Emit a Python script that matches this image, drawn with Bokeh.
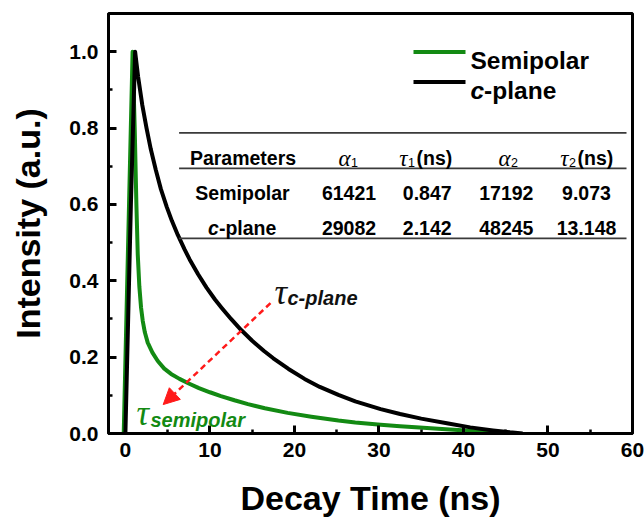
from bokeh.plotting import figure
from bokeh.models import (Label, Arrow, NormalHead, FixedTicker, PrintfTickFormatter,
                          ColumnDataSource)
from bokeh.embed import file_html
from bokeh.resources import INLINE

# ---------------- data ----------------
semipolar_t = [-0.2, 0.43, 0.85, 1.1, 1.3, 1.46, 1.65, 1.85, 2.05, 2.3, 2.64, 3.2, 3.83,
               4.6, 5.4, 6.4, 7.5, 8.7, 10.0, 11.3, 12.9, 14.5, 16.5, 19.2, 22.0, 25.2,
               27.2, 30.2, 32.5, 34.8, 37.0, 39.8, 42.5, 45.0]
semipolar_i = [0.0, 0.6, 1.0, 0.80, 0.60, 0.47, 0.385, 0.33, 0.295, 0.265, 0.238, 0.212, 0.19,
               0.17, 0.156, 0.143, 0.131, 0.119, 0.108, 0.098, 0.087, 0.077, 0.066, 0.054,
               0.044, 0.034, 0.029, 0.023, 0.019, 0.0155, 0.0125, 0.0085, 0.004, 0.0]

cplane_t = [0.0, 0.65, 1.15, 1.5, 2.0, 2.5, 3.0, 3.6, 4.2, 4.9, 5.5, 6.2, 7.0, 7.6, 8.6,
            9.6, 10.6, 11.4, 12.5, 13.7, 15.0, 16.4, 17.5, 19.3, 21.2, 23.0, 25.2, 27.2,
            30.2, 32.5, 35.0, 38.2, 40.8, 43.5, 45.5, 47.0]
cplane_i = [0.0, 0.6, 1.0, 0.935, 0.86, 0.80, 0.745, 0.69, 0.64, 0.593, 0.557, 0.52, 0.482,
            0.456, 0.417, 0.382, 0.351, 0.329, 0.300, 0.271, 0.243, 0.216, 0.197, 0.169,
            0.143, 0.122, 0.101, 0.084, 0.064, 0.051, 0.039, 0.026, 0.016, 0.008, 0.003, 0.0]

series_names = ["Semipolar", "c-plane"]
table_header = ["Parameters", "α1", "τ1 (ns)", "α2", "τ2 (ns)"]
table_semipolar = ["61421", "0.847", "17192", "9.073"]
table_cplane = ["29082", "2.142", "48245", "13.148"]

x_ticks = [0, 10, 20, 30, 40, 50, 60]
x_minor = [5, 15, 25, 35, 45, 55]
y_ticks = [0.0, 0.2, 0.4, 0.6, 0.8, 1.0]
y_minor = [0.1, 0.3, 0.5, 0.7, 0.9]

GREEN = "#138a13"
BLACK = "#000000"
RED = "#ff1a1a"
SANS = "Liberation Sans"
SERIF = "Liberation Serif"

# ---------------- layout ----------------
W, H = 644, 519
FL, FR, FT, FB = 108, 632, 13, 434
X0, X1, Y0, Y1 = -2, 60, 0, 1.1


def dx(px):
    return X0 + (px - FL) * (X1 - X0) / (FR - FL)


def dy(py):
    return Y0 + (FB - py) * (Y1 - Y0) / (FB - FT)


p = figure(width=W, height=H, x_range=(X0, X1), y_range=(Y0, Y1),
           output_backend="svg", toolbar_location=None,
           min_border_left=FL, min_border_right=W - FR,
           min_border_top=FT, min_border_bottom=H - FB)
p.background_fill_color = "white"
p.border_fill_color = "white"
p.xgrid.visible = False
p.ygrid.visible = False
p.outline_line_color = "black"
p.outline_line_width = 3
p.outline_line_alpha = 1

for ax in (p.xaxis[0], p.yaxis[0]):
    ax.axis_line_width = 3
    ax.major_tick_in = 8
    ax.major_tick_out = 0
    ax.minor_tick_in = 4
    ax.minor_tick_out = 0
    ax.major_tick_line_width = 3
    ax.minor_tick_line_width = 2.5
    ax.major_label_text_font = SANS
    ax.major_label_text_font_style = "bold"
    ax.major_label_text_font_size = "21px"
    ax.major_label_text_color = "black"
    ax.axis_label_text_font = SANS
    ax.axis_label_text_font_style = "bold"
    ax.axis_label_text_font_size = "34px"
    ax.axis_label_text_color = "black"

p.xaxis[0].ticker = FixedTicker(ticks=x_ticks, minor_ticks=x_minor)
p.yaxis[0].ticker = FixedTicker(ticks=y_ticks, minor_ticks=y_minor)
p.yaxis[0].formatter = PrintfTickFormatter(format="%.1f")
p.xaxis[0].axis_label = "Decay Time (ns)"
p.yaxis[0].axis_label = "Intensity (a.u.)"
p.xaxis[0].major_label_standoff = 9
p.yaxis[0].major_label_standoff = 10
p.xaxis[0].axis_label_standoff = 19
p.yaxis[0].axis_label_standoff = 19

# ---------------- curves ----------------
src_s = ColumnDataSource(dict(t=semipolar_t, i=semipolar_i))
src_c = ColumnDataSource(dict(t=cplane_t, i=cplane_i))
p.line("t", "i", source=src_s, line_color=GREEN, line_width=4, line_join="round")
p.line("t", "i", source=src_c, line_color=BLACK, line_width=4, line_join="round")


def lab(text, px, py, size, style="bold", font=SANS, color="black", align="left"):
    p.add_layout(Label(x=dx(px), y=dy(py), text=text, text_font=font,
                       text_font_size=f"{size}px", text_font_style=style,
                       text_color=color, text_align=align,
                       text_baseline="alphabetic"))


# ---------------- legend (manual) ----------------
p.segment(x0=[dx(413), dx(413)], y0=[dy(51.7), dy(81.7)],
          x1=[dx(465), dx(465)], y1=[dy(51.7), dy(81.7)],
          line_color=[GREEN, BLACK], line_width=4)
LS = 24.5
lab(series_names[0], 470, 60.5, LS)
lab("c", 470, 90.5, LS, style="bold italic")
lab(series_names[1][1:], 470 + 0.556 * LS, 90.5, LS)

# ---------------- table ----------------
p.segment(x0=[dx(178.6)] * 3, x1=[dx(626)] * 3,
          y0=[dy(132.7), dy(168.3), dy(238.5)], y1=[dy(132.7), dy(168.3), dy(238.5)],
          line_color="#3a3a3a", line_width=1.8)
TS = 19.5
hb, r1, r2 = 158.3, 193.3, 228.3
lab(table_header[0], 242.5, hb, TS, align="center")
# alpha_1
lab(table_header[1][0], 350, hb, 23, style="italic", font=SERIF, align="right")
lab(table_header[1][1], 350.5, hb + 4, 12.5, style="normal")
# tau_1 (ns)
lab(table_header[2][0], 407, hb, 23, style="italic", font=SERIF, align="right")
lab(table_header[2][1], 407.5, hb + 4, 12.5, style="normal")
lab(table_header[2][3:], 416, hb, TS)
# alpha_2
lab(table_header[3][0], 510, hb, 23, style="italic", font=SERIF, align="right")
lab(table_header[3][1], 510.5, hb + 4, 12.5, style="normal")
# tau_2 (ns)
lab(table_header[4][0], 568, hb, 23, style="italic", font=SERIF, align="right")
lab(table_header[4][1], 568.5, hb + 4, 12.5, style="normal")
lab(table_header[4][3:], 577, hb, TS)

cols = [348.5, 426.7, 505.8, 586]
lab(series_names[0], 242, r1, TS, align="center")
for v, cx in zip(table_semipolar, cols):
    lab(v, cx, r1, TS, align="center")
cw = 0.556 * TS
rw = 2.945 * TS
start = 241.7 - (cw + rw) / 2
lab("c", start, r2, TS, style="bold italic")
lab(series_names[1][1:], start + cw, r2, TS)
for v, cx in zip(table_cplane, cols):
    lab(v, cx, r2, TS, align="center")

# ---------------- annotations ----------------
p.add_layout(Arrow(end=NormalHead(size=16, fill_color=RED, line_color=RED, line_width=1),
                   x_start=dx(270), y_start=dy(303.3), x_end=dx(162.7), y_end=dy(405),
                   line_color=RED, line_width=2.5, line_dash="6 4"))
lab("τ", 274, 293, 35, style="italic", font=SERIF, color="#111111")
lab("c-plane", 287, 298.5, 20, style="bold italic", color="#111111")
lab("τ", 136, 414, 35, style="italic", font=SERIF, color=GREEN)
lab("semipolar", 150, 420, 20, style="bold italic", color=GREEN)

open("out.html", "w").write(file_html(p, INLINE))
